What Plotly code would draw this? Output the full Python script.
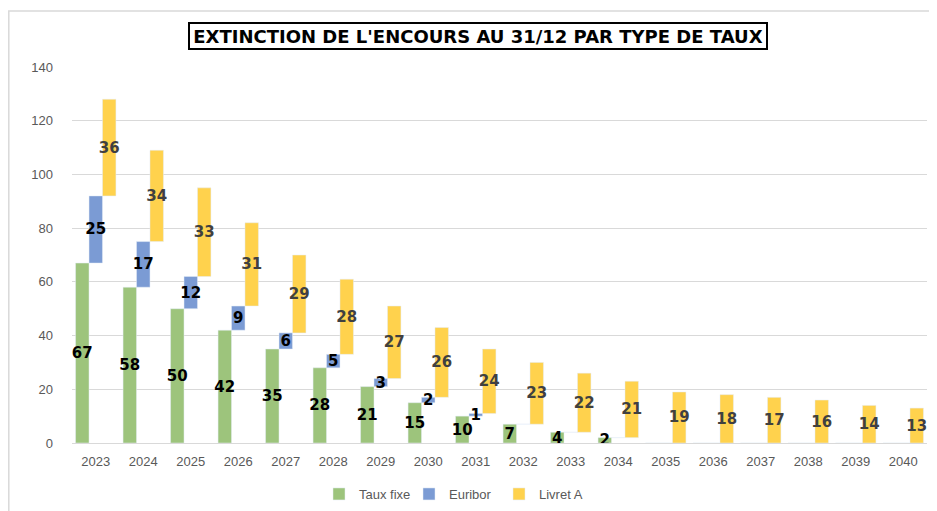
import plotly.graph_objects as go

years = [str(y) for y in range(2023, 2041)]
taux_fixe = [67, 58, 50, 42, 35, 28, 21, 15, 10, 7, 4, 2, 0, 0, 0, 0, 0, 0]
euribor = [25, 17, 12, 9, 6, 5, 3, 2, 1, 0, 0, 0, 0, 0, 0, 0, 0, 0]
livret_a = [36, 34, 33, 31, 29, 28, 27, 26, 24, 23, 22, 21, 19, 18, 17, 16, 14, 13]

base_eur = taux_fixe
base_liv = [f + e for f, e in zip(taux_fixe, euribor)]

def lab(vals):
    return [str(v) if v else "" for v in vals]

# page body has an 8px margin: figure drawn from (8, 8) of the window
W, H = 929, 503
L, T, R, B = 64, 59, 10, 68
PW = W - L - R
PH = H - T - B

def px(x):  # window x -> paper x
    return (x - 8 - L) / PW

def py(y):  # window y -> paper y
    return (H - B - (y - 8)) / PH

label_font = "DejaVu Sans"
fig = go.Figure()
fig.add_bar(x=years, y=taux_fixe, name="Taux fixe", marker_color="#9dc47c",
            text=lab(taux_fixe), textposition="inside", insidetextanchor="middle",
            textangle=0, constraintext="none",
            textfont=dict(family=label_font, size=15, color="#000000", weight="bold"))
fig.add_bar(x=years, y=euribor, base=base_eur, name="Euribor", marker_color="#7b9bd4",
            text=lab(euribor), textposition="inside", insidetextanchor="middle",
            textangle=0, constraintext="none",
            textfont=dict(family=label_font, size=15, color="#000000", weight="bold"))
fig.add_bar(x=years, y=livret_a, base=base_liv, name="Livret A", marker_color="#ffd24d",
            text=lab(livret_a), textposition="inside", insidetextanchor="middle",
            textangle=0, constraintext="none",
            textfont=dict(family=label_font, size=15, color="#404040", weight="bold"))

fig.update_layout(
    width=W, height=H,
    margin=dict(l=L, r=R, t=T, b=B, autoexpand=False),
    paper_bgcolor="white", plot_bgcolor="white",
    barmode="group", bargap=0.15, bargroupgap=0,
    font=dict(family="Liberation Sans", size=13, color="#595959"),
    showlegend=True,
    legend=dict(orientation="h", x=px(319), xanchor="left", y=py(494), yanchor="middle",
                font=dict(size=13, color="#595959"), entrywidth=45, entrywidthmode="pixels",
                traceorder="normal", itemwidth=30),
    xaxis=dict(type="category", showgrid=False, showline=True, linecolor="#d9d9d9",
               linewidth=1, ticks="", ticklabelstandoff=6,
               tickfont=dict(size=13, color="#595959")),
    yaxis=dict(range=[0, 140], dtick=20, showgrid=True, gridcolor="#d9d9d9", gridwidth=1,
               zeroline=False, showline=False, ticks="", ticklabelstandoff=18,
               tickfont=dict(size=13, color="#595959")),
    shapes=[dict(type="rect", xref="paper", yref="paper",
                 x0=px(8.8), x1=px(960), y0=py(530), y1=py(11),
                 line=dict(color="#d9d9d9", width=1.5), fillcolor="rgba(0,0,0,0)", layer="below")],
    annotations=[dict(text="<b>EXTINCTION DE L'ENCOURS AU 31/12 PAR TYPE DE TAUX</b>",
                      xref="paper", yref="paper", x=px(478), y=py(35.5),
                      xanchor="center", yanchor="middle", showarrow=False,
                      font=dict(family="DejaVu Sans", size=18, color="#000000"),
                      bordercolor="#000000", borderwidth=2, borderpad=2,
                      bgcolor="white", width=572, height=20)],
)

fig.write_html("out.html")
